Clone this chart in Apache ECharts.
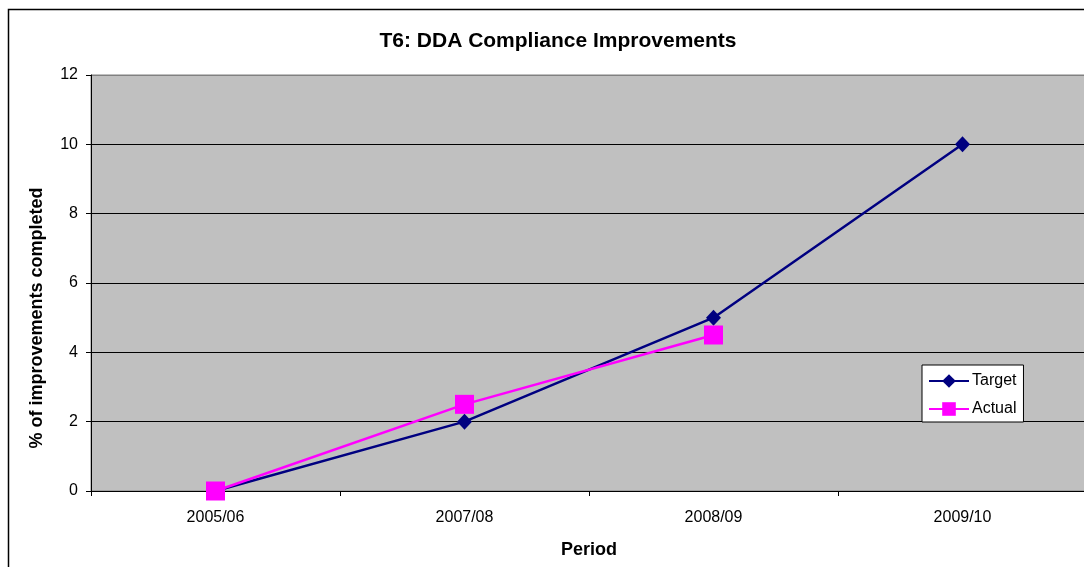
<!DOCTYPE html>
<html><head><meta charset="utf-8">
<script src="https://cdn.jsdelivr.net/npm/echarts@6/dist/echarts.min.js"></script>
<style>html,body{margin:0;padding:0;background:#fff;overflow:hidden}#c{width:1090px;height:567px}</style>
</head><body><div id="c"></div>
<script>
var categories = ['2005/06', '2007/08', '2008/09', '2009/10'];
var targetValues = [0, 2, 5, 10];
var actualValues = [0, 2.5, 4.5, null];
var yTicks = {min: 0, max: 12, interval: 2};
var titleText = 'T6: DDA Compliance Improvements';
var yName = '% of improvements completed';
var xName = 'Period';

var chart = echarts.init(document.getElementById('c'), null, {renderer: 'canvas'});
var font = 'Liberation Sans, Arial, sans-serif';
chart.setOption({
  animation: false,
  backgroundColor: '#ffffff',
  graphic: [
    {type: 'rect', shape: {x: 8.5, y: 9.5, width: 1200, height: 700}, style: {fill: 'none', stroke: '#000', lineWidth: 1.5}, z: -1},
    {type: 'text', x: 37, y: 318, rotation: Math.PI / 2, style: {text: yName, font: 'bold 18px ' + font, fill: '#000', align: 'center', verticalAlign: 'middle'}},
    {type: 'text', x: 589, y: 550, style: {text: xName, font: 'bold 18px ' + font, fill: '#000', align: 'center', verticalAlign: 'middle'}}
  ],
  title: {text: titleText, left: 553, top: 26, textAlign: 'center',
    textStyle: {fontFamily: font, fontWeight: 'bold', fontSize: 21, color: '#000'}},
  grid: {left: 91, top: 75, width: 996, bottom: 76, show: true, backgroundColor: '#c0c0c0', borderColor: '#808080', borderWidth: 1},
  legend: {orient: 'vertical', left: 922, top: 365, backgroundColor: '#fff', borderColor: '#000', borderWidth: 1,
    padding: [8, 7, 5, 6], itemGap: 12, itemWidth: 40, itemHeight: 17,
    textStyle: {fontFamily: font, fontSize: 16, color: '#000', padding: [0, 0, 0, -2]},
    data: ['Target', 'Actual']},
  xAxis: {type: 'category', data: categories, boundaryGap: true,
    axisLine: {lineStyle: {color: '#000', width: 1}},
    axisTick: {show: true, interval: 0, length: 5, lineStyle: {color: '#000'}},
    axisLabel: {fontFamily: font, fontSize: 16, color: '#000', margin: 19},
    splitLine: {show: false}},
  yAxis: {type: 'value', min: yTicks.min, max: yTicks.max, interval: yTicks.interval,
    axisLine: {show: true, lineStyle: {color: '#000', width: 1}},
    axisTick: {show: true, length: 5, lineStyle: {color: '#000'}},
    axisLabel: {fontFamily: font, fontSize: 16, color: '#000', margin: 13, padding: [4, 0, 0, 0]},
    splitLine: {show: true, lineStyle: {color: ['#000', '#000', '#000', '#000', '#000', '#000', '#808080'], width: 1}}},
  series: [
    {name: 'Target', type: 'line', data: targetValues, symbol: 'diamond', symbolSize: [15, 16],
      lineStyle: {color: '#000080', width: 2.5}, itemStyle: {color: '#000080'}, z: 2},
    {name: 'Actual', type: 'line', data: actualValues, symbol: 'rect', symbolSize: 19,
      lineStyle: {color: '#ff00ff', width: 2.5}, itemStyle: {color: '#ff00ff'}, z: 3}
  ]
});
</script></body></html>
